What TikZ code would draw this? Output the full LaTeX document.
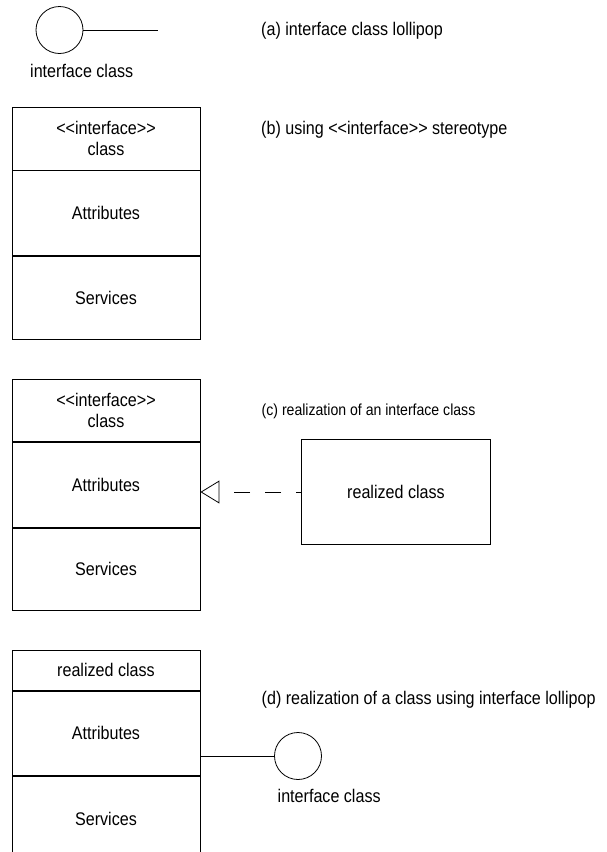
\documentclass[tikz,border=0pt]{standalone}
\usepackage{fontspec}
\setmainfont[FakeStretch=0.88]{Liberation Sans}
\usetikzlibrary{arrows.meta,positioning}

\tikzset{
    compart/.style={rectangle, draw, line width=0.9pt, minimum width=188pt, inner sep=0pt, align=center, font=\fontsize{18.3}{21.7}\selectfont},
    lolli/.style={circle, draw, line width=0.8pt, minimum size=47pt, inner sep=0pt},
    caption/.style={anchor=west, inner sep=0pt, font=\fontsize{18.3}{22}\selectfont},
    realize/.style={draw, line width=0.8pt, dash pattern=on 16pt off 15pt, dash phase=11pt, -{Triangle[open, length=19pt, width=23pt, line width=0.8pt]}}
}

\begin{document}
\begin{tikzpicture}[x=1pt, y=-1pt, node distance=0pt]
    \useasboundingbox (0,0) rectangle (607,852);

    % (a) lollipop
    \node[lolli] (aLolli) at (59.5,30) {};
    \coordinate (aEnd) at (158,30);
    \draw[line width=0.8pt] (aLolli.east) -- (aEnd);
    \node[caption] (aName) at (30,71) {interface class};
    \node[caption] (aText) at (261,30.5) {(a) interface class lollipop};

    % (b) stereotype box
    \node[compart, anchor=north, minimum height=63pt] (bHead) at (106,106.5) {<{}<interface>{}>\\class};
    \node[compart, below=of bHead, minimum height=85pt] (bAttr) {Attributes};
    \node[compart, below=of bAttr, minimum height=83pt] (bServ) {Services};
    \node[caption] (bText) at (261,130) {(b) using <{}<interface>{}> stereotype};

    % (c) realization
    \node[compart, anchor=north, minimum height=62pt] (cHead) at (106,379) {<{}<interface>{}>\\class};
    \node[compart, below=of cHead, minimum height=85pt] (cAttr) {Attributes};
    \node[compart, below=of cAttr, minimum height=82pt] (cServ) {Services};
    \node[compart, minimum width=189pt, minimum height=105pt, line width=0.8pt] (cReal) at (396,492) {realized class};
    \draw[realize] (cReal.west) -- (cReal.west -| cAttr.east);
    \node[caption, font=\fontsize{16}{19}\selectfont] (cText) at (261.5,411.5) {(c) realization of an interface class};

    % (d) realization with lollipop
    \node[compart, anchor=north, minimum height=40pt] (dHead) at (106,650) {realized class};
    \node[compart, below=of dHead, minimum height=84pt] (dAttr) {Attributes};
    \node[compart, below=of dAttr, minimum height=86pt] (dServ) {Services};
    \node[lolli] (dLolli) at (298,756) {};
    \draw[line width=0.8pt] (dLolli.west) -- (dLolli.west -| dAttr.east);
    \node[caption] (dName) at (277.5,796) {interface class};
    \node[caption] (dText) at (261.5,700) {(d) realization of a class using interface lollipop};
\end{tikzpicture}
\end{document}
